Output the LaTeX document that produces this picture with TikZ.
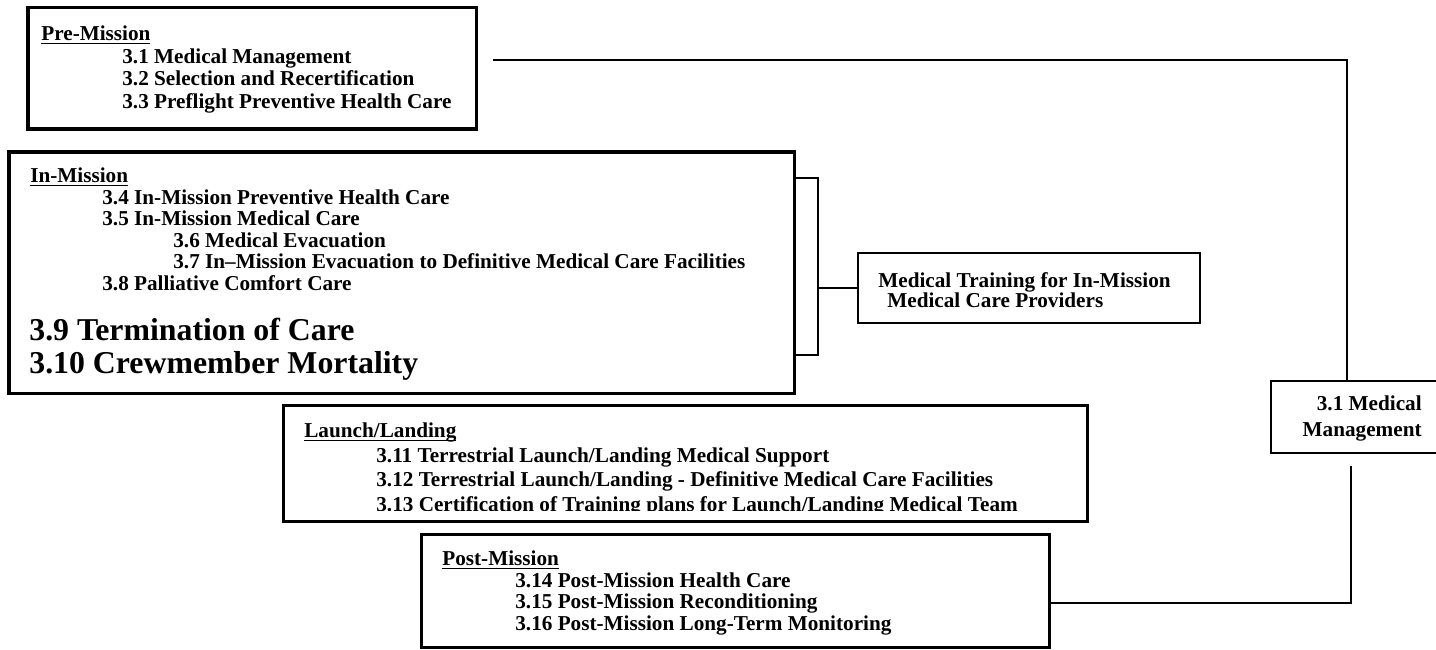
\documentclass[tikz,border=0pt]{standalone}
\usepackage{fontspec}
\setmainfont{Liberation Serif}
\newdimen\pxu \pxu=0.566pt
\newcommand\hdr[1]{\setbox0\hbox{#1}\rlap{\rule[-2.2pt]{\wd0}{1pt}}\box0}
\newcommand\ind[1]{\hspace*{#1\pxu}}
\tikzset{
  frame/.style={draw, line width=1.7pt, inner sep=0pt, outer sep=0pt, anchor=north west},
  entries/.style={anchor=north west, align=left, inner sep=0pt, font=\bfseries\fontsize{12}{#1}\selectfont},
  link/.style={line width=0.75pt}
}

\begin{document}
\begin{tikzpicture}[x=0.566pt, y=-0.566pt]
            \useasboundingbox (0,0) rectangle (1436,650);
            \node[frame, minimum width=448\pxu, minimum height=121\pxu] (premission) at (28,8) {};
            \node[frame, minimum width=785\pxu, minimum height=241\pxu] (inmission) at (9,152) {};
            \node[frame, minimum width=804\pxu, minimum height=116\pxu] (launch) at (283,405) {};
            \node[frame, minimum width=628\pxu, minimum height=113\pxu] (postmission) at (421,534) {};
            \node[frame, line width=1.5pt, minimum width=342\pxu, minimum height=70\pxu] (training) at (858,253) {};
            \node[frame, line width=1pt, minimum width=175\pxu, minimum height=72\pxu] (mgmt) at (1271,381) {};
            \node[entries=12.8pt] (pretext) at (41,25.4) {\hdr{Pre-Mission}\\
                \ind{81}3.1 Medical Management\\
                \ind{81}3.2 Selection and Recertification\\
                \ind{81}3.3 Preflight Preventive Health Care};
            \node[entries=12.2pt] (intext) at (30,167.4) {\hdr{In-Mission}\\
                \ind{72}3.4 In-Mission Preventive Health Care\\
                \ind{72}3.5 In-Mission Medical Care\\
                \ind{143}3.6 Medical Evacuation\\
                \ind{143}3.7 In--Mission Evacuation to Definitive Medical Care Facilities\\
                \ind{72}3.8 Palliative Comfort Care};
            \node[entries=18.7pt, font=\bfseries\fontsize{18}{18.7}\selectfont] (inbig) at (29,318) {3.9 Termination of Care\\3.10 Crewmember Mortality};
            \begin{scope}
                \clip (launch.north west) rectangle ([shift={(0,-11)}]launch.south east);
                \node[entries=13.9pt] (lltext) at (304,422.4) {\hdr{Launch/Landing}\\
                    \ind{72}3.11 Terrestrial Launch/Landing Medical Support\\
                    \ind{72}3.12 Terrestrial Launch/Landing - Definitive Medical Care Facilities\\
                    \ind{72}3.13 Certification of Training plans for Launch/Landing Medical Team};
            \end{scope}
            \node[entries=12.3pt] (posttext) at (442,550.4) {\hdr{Post-Mission}\\
                \ind{73}3.14 Post-Mission Health Care\\
                \ind{73}3.15 Post-Mission Reconditioning\\
                \ind{73}3.16 Post-Mission Long-Term Monitoring};
            \node[entries=11.3pt] (traintext) at (878,272.4) {Medical Training for In-Mission\\\ind{9}Medical Care Providers};
            \node[entries=14.7pt, anchor=north east, align=right] (mgmttext) at (1422,395.4) {3.1 Medical\\Management};
            \coordinate (prestub) at ([shift={(17,-8.5)}]premission.east);
            \coordinate (mgmtstub) at ([shift={(80,13)}]mgmt.south west);
            \draw[link] (prestub) -| ([shift={(76,0)}]mgmt.north west);
            \draw[link] ([shift={(0,26)}]inmission.north east) -- ++(24,0) coordinate (bracetop) -- ++(0,177) -- ++(-24,0);
            \draw[link] (training.west) -- (training.west -| bracetop);
            \draw[link] (mgmtstub) |- ([shift={(0,12.5)}]postmission.east);
        \end{tikzpicture}
\end{document}
